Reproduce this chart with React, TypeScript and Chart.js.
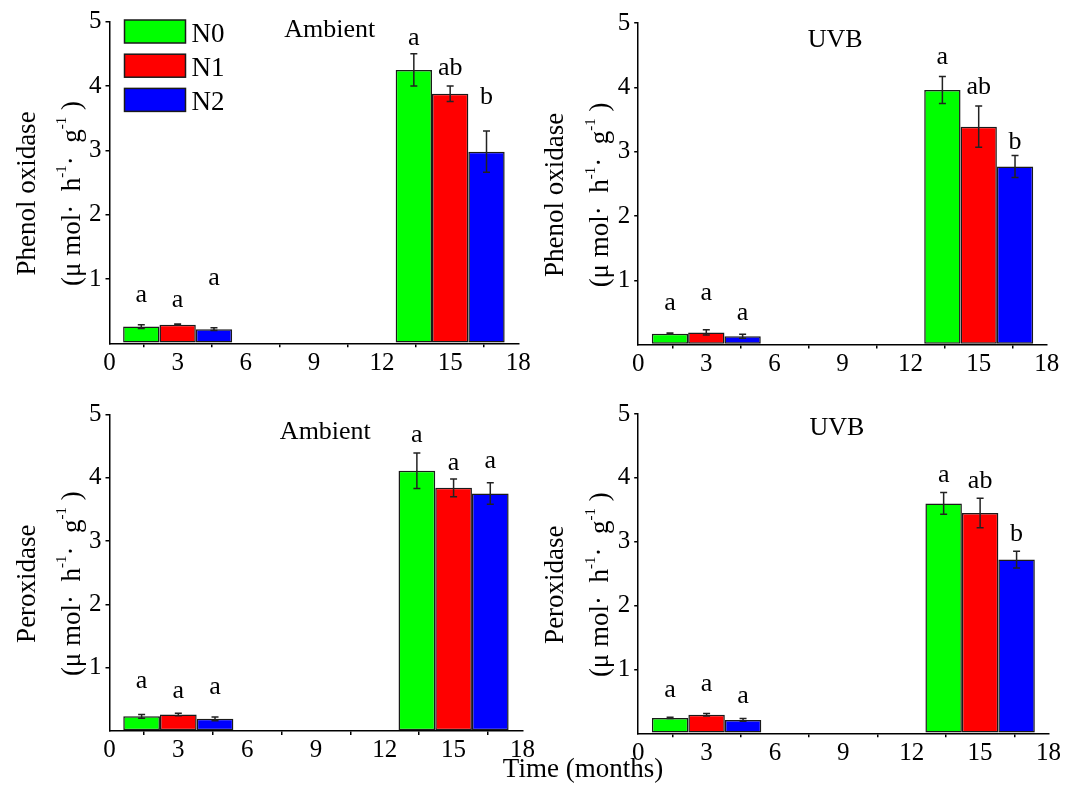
import React, { useEffect, useRef } from 'react';
import { Chart, registerables } from 'chart.js';

Chart.register(...registerables);

// ---------- data ----------
const MONTHS = [3, 15];
const SERIES_NAMES = ['N0', 'N1', 'N2'];
const SERIES_COLORS = ['#00ff00', '#ff0000', '#0000ff'];
const X_TICK_STEP = 3;
const X_MAX = 18;
const Y_MAX = 5;
const BAR_WIDTH_MONTHS = 1.6;

// Phenol oxidase, Ambient
const PO_AMB_N0 = [0.26, 4.25];
const PO_AMB_N1 = [0.29, 3.88];
const PO_AMB_N2 = [0.22, 2.98];
const PO_AMB_ERR_N0 = [0.03, 0.25];
const PO_AMB_ERR_N1 = [0.01, 0.12];
const PO_AMB_ERR_N2 = [0.02, 0.32];
const PO_AMB_LET_N0 = ['a', 'a'];
const PO_AMB_LET_N1 = ['a', 'ab'];
const PO_AMB_LET_N2 = ['a', 'b'];
const PO_AMB_LETY_N0 = [0.64, 4.64];
const PO_AMB_LETY_N1 = [0.56, 4.17];
const PO_AMB_LETY_N2 = [0.91, 3.72];

// Phenol oxidase, UVB
const PO_UVB_N0 = [0.17, 3.96];
const PO_UVB_N1 = [0.19, 3.39];
const PO_UVB_N2 = [0.13, 2.77];
const PO_UVB_ERR_N0 = [0.01, 0.21];
const PO_UVB_ERR_N1 = [0.04, 0.32];
const PO_UVB_ERR_N2 = [0.03, 0.17];
const PO_UVB_LET_N0 = ['a', 'a'];
const PO_UVB_LET_N1 = ['a', 'ab'];
const PO_UVB_LET_N2 = ['a', 'b'];
const PO_UVB_LETY_N0 = [0.54, 4.37];
const PO_UVB_LETY_N1 = [0.69, 3.9];
const PO_UVB_LETY_N2 = [0.38, 3.05];

// Peroxidase, Ambient
const POD_AMB_N0 = [0.23, 4.11];
const POD_AMB_N1 = [0.26, 3.84];
const POD_AMB_N2 = [0.19, 3.75];
const POD_AMB_ERR_N0 = [0.03, 0.28];
const POD_AMB_ERR_N1 = [0.02, 0.14];
const POD_AMB_ERR_N2 = [0.03, 0.17];
const POD_AMB_LET_N0 = ['a', 'a'];
const POD_AMB_LET_N1 = ['a', 'a'];
const POD_AMB_LET_N2 = ['a', 'a'];
const POD_AMB_LETY_N0 = [0.67, 4.57];
const POD_AMB_LETY_N1 = [0.52, 4.12];
const POD_AMB_LETY_N2 = [0.59, 4.15];

// Peroxidase, UVB
const POD_UVB_N0 = [0.24, 3.6];
const POD_UVB_N1 = [0.29, 3.45];
const POD_UVB_N2 = [0.21, 2.72];
const POD_UVB_ERR_N0 = [0.01, 0.17];
const POD_UVB_ERR_N1 = [0.02, 0.23];
const POD_UVB_ERR_N2 = [0.02, 0.13];
const POD_UVB_LET_N0 = ['a', 'a'];
const POD_UVB_LET_N1 = ['a', 'ab'];
const POD_UVB_LET_N2 = ['a', 'b'];
const POD_UVB_LETY_N0 = [0.57, 3.94];
const POD_UVB_LETY_N1 = [0.67, 3.84];
const POD_UVB_LETY_N2 = [0.48, 3.01];

const PANEL_TITLES = ['Ambient', 'UVB', 'Ambient', 'UVB'];
const TITLE_X = [9.7, 8.68, 9.41, 8.72];
const TITLE_Y = [4.76, 4.63, 4.61, 4.67];
const Y_TITLES = ['Phenol oxidase', 'Phenol oxidase', 'Peroxidase', 'Peroxidase'];
const UNIT_SEGMENTS = [
  { t: '(\u03bc mol\u00b7  h', sup: false },
  { t: '-1', sup: true },
  { t: '\u00b7  g', sup: false },
  { t: '-1', sup: true },
  { t: ' )', sup: false },
];
const X_TITLE = 'Time (months)';

// ---------- layout ----------
const FONT = '"Liberation Serif", "Times New Roman", serif';

const PANELS = [
  {
    left: 0, top: 0, width: 536, height: 395,
    pad: { left: 69.5, right: 17.7, top: 21.7, bottom: 11.7 },
    values: [PO_AMB_N0, PO_AMB_N1, PO_AMB_N2],
    errors: [PO_AMB_ERR_N0, PO_AMB_ERR_N1, PO_AMB_ERR_N2],
    letters: [PO_AMB_LET_N0, PO_AMB_LET_N1, PO_AMB_LET_N2],
    letterY: [PO_AMB_LETY_N0, PO_AMB_LETY_N1, PO_AMB_LETY_N2],
    legend: true,
  },
  {
    left: 536, top: 0, width: 536, height: 395,
    pad: { left: 62.2, right: 25.2, top: 23.2, bottom: 10.4 },
    values: [PO_UVB_N0, PO_UVB_N1, PO_UVB_N2],
    errors: [PO_UVB_ERR_N0, PO_UVB_ERR_N1, PO_UVB_ERR_N2],
    letters: [PO_UVB_LET_N0, PO_UVB_LET_N1, PO_UVB_LET_N2],
    letterY: [PO_UVB_LETY_N0, PO_UVB_LETY_N1, PO_UVB_LETY_N2],
    legend: false,
  },
  {
    left: 0, top: 395, width: 540, height: 391,
    pad: { left: 69.5, right: 17.6, top: 19.4, bottom: 15.1 },
    values: [POD_AMB_N0, POD_AMB_N1, POD_AMB_N2],
    errors: [POD_AMB_ERR_N0, POD_AMB_ERR_N1, POD_AMB_ERR_N2],
    letters: [POD_AMB_LET_N0, POD_AMB_LET_N1, POD_AMB_LET_N2],
    letterY: [POD_AMB_LETY_N0, POD_AMB_LETY_N1, POD_AMB_LETY_N2],
    legend: false,
  },
  {
    left: 536, top: 395, width: 536, height: 391,
    pad: { left: 62.2, right: 23.5, top: 18.5, bottom: 12.7 },
    values: [POD_UVB_N0, POD_UVB_N1, POD_UVB_N2],
    errors: [POD_UVB_ERR_N0, POD_UVB_ERR_N1, POD_UVB_ERR_N2],
    letters: [POD_UVB_LET_N0, POD_UVB_LET_N1, POD_UVB_LET_N2],
    letterY: [POD_UVB_LETY_N0, POD_UVB_LETY_N1, POD_UVB_LETY_N2],
    legend: false,
  },
];

function drawRotated(ctx: CanvasRenderingContext2D, baseX: number, cy: number, segs: { t: string; sup: boolean }[], size: number, supSize: number) {
  ctx.save();
  ctx.translate(baseX, cy);
  ctx.rotate(-Math.PI / 2);
  ctx.fillStyle = '#000';
  ctx.textBaseline = 'alphabetic';
  ctx.textAlign = 'left';
  const widths = segs.map((s) => {
    ctx.font = `${s.sup ? supSize : size}px ${FONT}`;
    return ctx.measureText(s.t).width;
  });
  const total = widths.reduce((a, b) => a + b, 0);
  let x = -total / 2;
  segs.forEach((s, i) => {
    ctx.font = `${s.sup ? supSize : size}px ${FONT}`;
    ctx.fillText(s.t, x, s.sup ? -size * 0.5 : 0);
    x += widths[i];
  });
  ctx.restore();
}

function Panel({ idx }: { idx: number }) {
  const ref = useRef<HTMLCanvasElement | null>(null);
  const p = PANELS[idx];
  useEffect(() => {
    if (!ref.current) return;
    const annot = {
      id: 'annot' + idx,
      afterDatasetsDraw(chart: any) {
        const { ctx, chartArea, scales } = chart;
        const xs = scales.x;
        const ys = scales.y;
        ctx.save();
        // error bars
        ctx.strokeStyle = '#222';
        ctx.lineWidth = 1.5;
        p.values.forEach((vals, di) => {
          const meta = chart.getDatasetMeta(di);
          vals.forEach((v, j) => {
            const bar = meta.data[j];
            const e = p.errors[di][j];
            const yT = ys.getPixelForValue(v + e);
            const yB = ys.getPixelForValue(v - e);
            const cx = bar.x;
            ctx.beginPath();
            ctx.moveTo(cx, yT);
            ctx.lineTo(cx, yB);
            ctx.moveTo(cx - 3.5, yT);
            ctx.lineTo(cx + 3.5, yT);
            ctx.moveTo(cx - 3.5, yB);
            ctx.lineTo(cx + 3.5, yB);
            ctx.stroke();
          });
        });
        // significance letters
        ctx.fillStyle = '#000';
        ctx.font = `26px ${FONT}`;
        ctx.textAlign = 'center';
        ctx.textBaseline = 'alphabetic';
        p.letters.forEach((ls, di) => {
          const meta = chart.getDatasetMeta(di);
          ls.forEach((l, j) => {
            ctx.fillText(l, meta.data[j].x, ys.getPixelForValue(p.letterY[di][j]));
          });
        });
        // panel title
        ctx.font = `26px ${FONT}`;
        ctx.fillText(PANEL_TITLES[idx], xs.getPixelForValue(TITLE_X[idx]), ys.getPixelForValue(TITLE_Y[idx]));
        // y titles
        const cy = (chartArea.top + chartArea.bottom) / 2 + 11;
        drawRotated(ctx, chartArea.left - 75, cy, [{ t: Y_TITLES[idx], sup: false }], 27, 15);
        drawRotated(ctx, chartArea.left - 30, cy, UNIT_SEGMENTS, 27, 15);
        // legend
        if (p.legend) {
          SERIES_NAMES.forEach((name, i) => {
            const bx = chartArea.left + 15;
            const by = chartArea.top - 1.7 + i * 34.2;
            ctx.fillStyle = SERIES_COLORS[i];
            ctx.fillRect(bx, by, 61, 23);
            ctx.strokeStyle = '#1a1a1a';
            ctx.lineWidth = 1.5;
            ctx.strokeRect(bx, by, 61, 23);
            ctx.fillStyle = '#000';
            ctx.font = `27px ${FONT}`;
            ctx.textAlign = 'left';
            ctx.fillText(name, bx + 67, by + 21.7);
          });
        }
        ctx.restore();
      },
    };
    const chart = new Chart(ref.current, {
      type: 'bar',
      data: {
        datasets: SERIES_NAMES.map((name, i) => ({
          label: name,
          data: MONTHS.map((m, j) => ({ x: m, y: p.values[i][j] })),
          backgroundColor: SERIES_COLORS[i],
          borderColor: '#1a1a1a',
          borderWidth: 1.5,
          borderSkipped: false,
          categoryPercentage: (3 * BAR_WIDTH_MONTHS) / X_TICK_STEP,
          barPercentage: 1,
        })),
      },
      options: {
        responsive: false,
        animation: false,
        layout: { padding: p.pad },
        plugins: { legend: { display: false }, tooltip: { enabled: false } },
        scales: {
          x: {
            type: 'linear',
            min: 0,
            max: X_MAX,
            offset: false,
            afterFit: (s: any) => { s.height = 40; },
            ticks: { stepSize: X_TICK_STEP, font: { family: FONT, size: 25 }, color: '#000', padding: 1, maxRotation: 0, autoSkip: false },
            grid: { drawOnChartArea: false, drawTicks: true, tickLength: 4, color: '#000', lineWidth: 1.5 },
            border: { display: true, color: '#000', width: 1.5 },
          },
          y: {
            min: 0,
            max: Y_MAX,
            afterFit: (s: any) => { s.width = 40; },
            ticks: {
              stepSize: 1,
              font: { family: FONT, size: 25 },
              color: '#000',
              padding: 4,
              callback: (v: any) => (v === 0 ? '' : String(v)),
            },
            grid: {
              drawOnChartArea: false,
              drawTicks: true,
              tickLength: 4,
              lineWidth: 1.5,
              color: (c: any) => (c.tick && c.tick.value === 0 ? 'rgba(0,0,0,0)' : '#000'),
            },
            border: { display: true, color: '#000', width: 1.5 },
          },
        },
      },
      plugins: [annot],
    } as any);
    return () => chart.destroy();
  }, [idx]);
  return (
    <canvas
      ref={ref}
      width={p.width}
      height={p.height}
      style={{ position: 'absolute', left: p.left, top: p.top, width: p.width, height: p.height }}
    />
  );
}

export default function App() {
  return (
    <div style={{ position: 'absolute', left: 0, top: 0, width: 1072, height: 786, background: '#fff', overflow: 'hidden' }}>
      {PANELS.map((_, i) => (
        <Panel key={i} idx={i} />
      ))}
      <div
        style={{
          position: 'absolute',
          left: 283,
          top: 755,
          width: 600,
          textAlign: 'center',
          fontFamily: FONT,
          fontSize: 27,
          lineHeight: '26px',
          color: '#000',
        }}
      >
        {X_TITLE}
      </div>
    </div>
  );
}
